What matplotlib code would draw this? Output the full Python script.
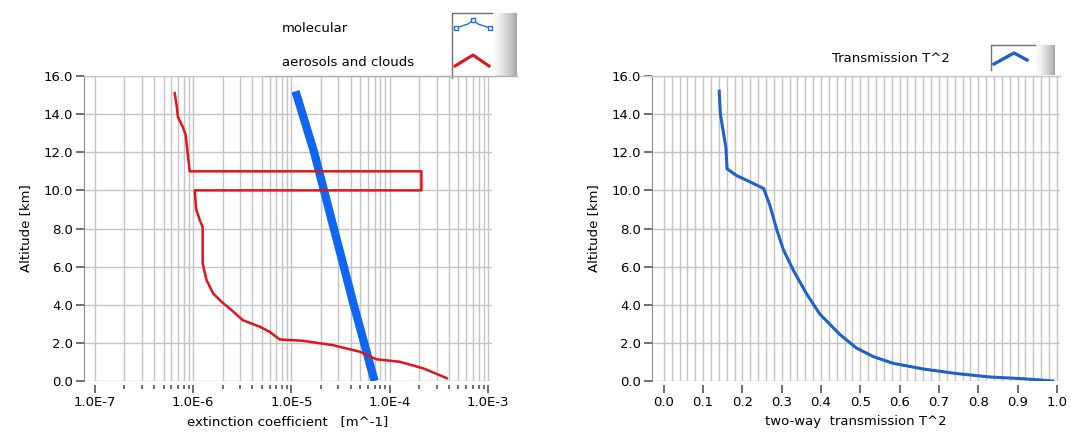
import numpy as np
import matplotlib.pyplot as plt
from matplotlib.ticker import FixedLocator, MultipleLocator, FuncFormatter, NullFormatter

# molecular extinction
mol_alt = [0.0, 4.0, 8.0, 12.0, 15.2]
mol_ext = [7.0e-5, 4.3e-5, 2.7e-5, 1.7e-5, 1.1e-5]

# aerosols and clouds extinction
aer_alt = [15.1, 14.45, 13.85, 13.3, 12.9, 11.05, 11.0, 11.0, 10.0, 10.0, 9.04, 8.43, 8.08, 6.16, 5.29,
           4.59, 4.15, 3.8, 3.19, 2.84, 2.58, 2.18, 2.11, 1.88, 1.53, 1.14, 1.01, 0.66, 0.15]
aer_ext = [6.5e-7, 6.8e-7, 7.0e-7, 7.9e-7, 8.4e-7, 9.2e-7, 9.2e-7, 2.1e-4, 2.1e-4, 1.04e-6, 1.07e-6,
           1.17e-6, 1.25e-6, 1.25e-6, 1.37e-6, 1.6e-6, 1.95e-6, 2.36e-6, 3.2e-6, 4.8e-6, 6.0e-6,
           7.6e-6, 1.3e-5, 2.65e-5, 5.0e-5, 7.3e-5, 1.26e-4, 2.2e-4, 3.8e-4]

# two-way transmission
tr_alt = [15.2, 14.0, 12.24, 11.13, 10.78, 10.37, 10.1, 9.21, 7.96, 6.9, 5.83, 4.58, 3.51, 2.44,
          1.73, 1.28, 0.93, 0.63, 0.39, 0.21, 0.12, 0.0]
tr_val = [0.141, 0.144, 0.158, 0.161, 0.185, 0.227, 0.254, 0.27, 0.287, 0.304, 0.329, 0.363, 0.397,
          0.448, 0.49, 0.533, 0.583, 0.66, 0.745, 0.83, 0.914, 0.99]

xticks_left = [1e-7, 1e-6, 1e-5, 1e-4, 1e-3]
xlabels_left = ["1.0E-7", "1.0E-6", "1.0E-5", "1.0E-4", "1.0E-3"]
xticks_right = [0.0, 0.1, 0.2, 0.3, 0.4, 0.5, 0.6, 0.7, 0.8, 0.9, 1.0]

plt.rcParams['font.family'] = 'DejaVu Sans'
plt.rcParams['font.size'] = 9.5

grid_c = '#c4c4c4'
fig = plt.figure(figsize=(10.72, 4.34), dpi=100)

W, H = 1072.0, 434.0
axl = fig.add_axes([84 / W, 1 - 381 / H, 408 / W, 305 / H])
axr = fig.add_axes([652 / W, 1 - 381 / H, 408 / W, 305 / H])


def style(ax):
    ax.set_ylim(0, 16)
    ax.yaxis.set_major_locator(MultipleLocator(2))
    ax.yaxis.set_major_formatter(FuncFormatter(lambda v, p: "%.1f" % v))
    ax.spines['right'].set_visible(False)
    ax.spines['top'].set_color(grid_c)
    ax.spines['left'].set_color('#8a8a8a')
    ax.spines['bottom'].set_position(('outward', 3))
    ax.spines['bottom'].set_visible(False)
    ax.tick_params(axis='y', direction='out', length=6, width=1.2, color='#555555', pad=2)
    ax.tick_params(axis='x', which='major', direction='out', length=6, width=1.2, color='#555555', pad=2)
    ax.grid(True, which='both', color=grid_c, lw=1.0)
    ax.set_axisbelow(True)
    ax.set_ylabel("Altitude [km]", labelpad=8)


# left plot
axl.plot(mol_ext, mol_alt, color='#0f66f2', lw=6, solid_capstyle='butt', zorder=3)
axl.plot(aer_ext, aer_alt, color='#e0141c', lw=1.8, zorder=4)
axl.set_xscale('log')
axl.set_xlim(10 ** -7.11, 10 ** -2.96)
style(axl)
axl.xaxis.set_major_locator(FixedLocator(xticks_left))
axl.set_xticklabels(xlabels_left)
minor_left = [m * d for d in xticks_left[:-1] for m in range(2, 10)]
axl.xaxis.set_minor_locator(FixedLocator(minor_left))
axl.xaxis.set_minor_formatter(NullFormatter())
axl.tick_params(axis='x', which='minor', direction='out', length=3, width=1.2, color='#555555')
axl.set_xlabel("extinction coefficient   [m^-1]", labelpad=4)

# right plot
axr.plot(tr_val, tr_alt, color='#1c62c8', lw=2.2, zorder=3)
axr.set_xlim(-0.03, 1.008)
style(axr)
axr.xaxis.set_major_locator(FixedLocator(xticks_right))
axr.xaxis.set_major_formatter(FuncFormatter(lambda v, p: "%.1f" % v))
axr.xaxis.set_minor_locator(FixedLocator([i * 0.02 for i in range(51)]))
axr.tick_params(axis='x', which='minor', length=0)
axr.set_xlabel("two-way  transmission T^2", labelpad=4)


# LabVIEW style plot legends
def swatch_box(x0, y0, x1, y1, grad_x):
    # gradient strip on the right side
    gax = fig.add_axes([grad_x / W, 1 - y1 / H, (x1 - grad_x) / W, (y1 - y0) / H])
    gax.imshow(np.linspace(1, 0, 50)[None, :], cmap='Greys_r', vmin=-1.2, vmax=1,
               aspect='auto', extent=[0, 1, 0, 1])
    gax.axis('off')


def fig_line(xs, ys, **kw):
    fig.add_artist(plt.Line2D([x / W for x in xs], [1 - y / H for y in ys], **kw))


# left legend
fig.text(282 / W, 1 - 28 / H, "molecular", va='center', ha='left')
fig.text(282 / W, 1 - 62 / H, "aerosols and clouds", va='center', ha='left')
swatch_box(452, 13, 517, 76, 492)
fig_line([452, 452, 492], [78, 13, 13], color='#707070', lw=1)
fig_line([265, 517], [76, 76], color='#b0b0b0', lw=1)
fig_line([456, 468, 473, 478, 490], [28, 24, 20, 24, 28], color='#1f6fe0', lw=1,
         marker='s', markersize=2.5, markerfacecolor='white', markevery=[0, 2, 4])
fig_line([455, 473, 489], [66, 55, 66], color='#e0141c', lw=2.2)

# right legend
fig.text(832 / W, 1 - 58 / H, "Transmission T^2", va='center', ha='left')
swatch_box(991, 45, 1055, 75, 1035)
fig_line([991, 991, 1035], [70, 45, 45], color='#707070', lw=1)
fig_line([640, 1060], [75.5, 75.5], color='#c8c8c8', lw=1)
fig_line([994, 1014, 1027], [64, 53, 60], color='#1c62c8', lw=2.4)

fig.savefig("out.png", dpi=100)
